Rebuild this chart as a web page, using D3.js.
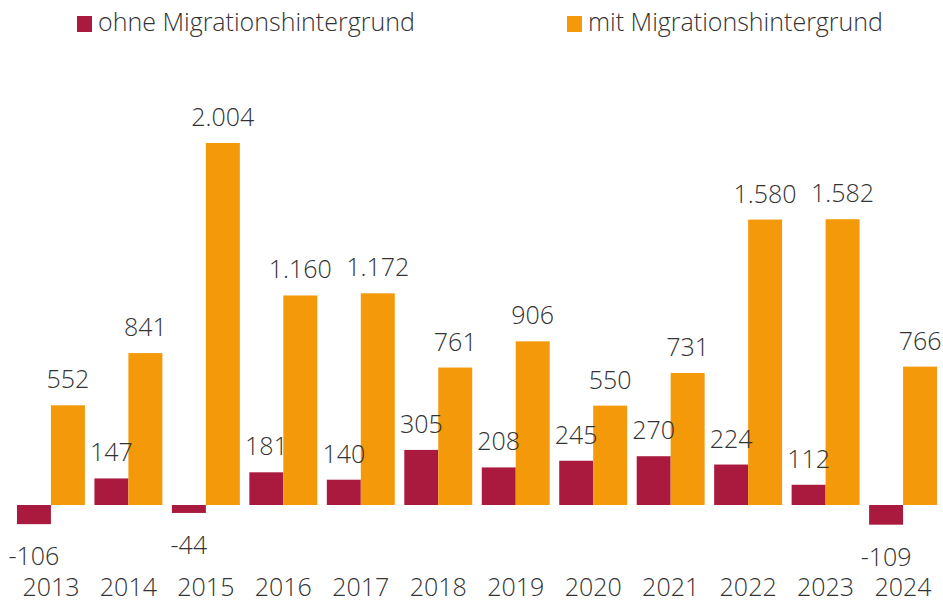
<!DOCTYPE html>
<html><head><meta charset="utf-8">
<script src="https://cdn.jsdelivr.net/npm/d3@7"></script>
<style>
html,body{margin:0;padding:0;background:#fff;}
svg{display:block;}
text{font-family:"Open Sans",sans-serif;font-weight:300;fill:#333;}
</style></head>
<body><svg id="c" width="943" height="603"></svg>
<script>
const years = ["2013","2014","2015","2016","2017","2018","2019","2020","2021","2022","2023","2024"];
const ohne = [-106,147,-44,181,140,305,208,245,270,224,112,-109];
const mit = [552,841,2004,1160,1172,761,906,550,731,1580,1582,766];
const seriesNames = ["ohne Migrationshintergrund","mit Migrationshintergrund"];
const colors = ["#AA1A3F","#F4990A"];

const svg = d3.select("#c");
const x = d3.scaleBand().domain(years).range([12.2, 941.8]).paddingInner(0.123).paddingOuter(0.0615);
const x1 = d3.scaleBand().domain([0,1]).range([0, x.bandwidth()]);
const y = d3.scaleLinear().domain([0, 2004]).range([505, 143]);
const fmt = v => d3.format(",")(v).replace(/,/g, ".").replace("\u2212", "-");

const data = [];
years.forEach((yr,i)=>{ data.push({yr, s:0, v:ohne[i]}); data.push({yr, s:1, v:mit[i]}); });

const g = svg.append("g");
g.selectAll("rect").data(data).join("rect")
  .attr("x", d => x(d.yr) + x1(d.s))
  .attr("width", x1.bandwidth())
  .attr("y", d => Math.min(y(d.v), y(0)))
  .attr("height", d => Math.abs(y(d.v) - y(0)))
  .attr("fill", d => colors[d.s]);

g.selectAll("text.val").data(data).join("text").attr("class","val")
  .attr("x", d => x(d.yr) + x1(d.s) + x1.bandwidth()/2)
  .attr("y", d => d.v >= 0 ? y(d.v) - 17 : y(d.v) + 41)
  .attr("text-anchor","middle")
  .style("font-size","25px")
  .text(d => fmt(d.v));

const xAxis = d3.axisBottom(x).tickSize(0).tickPadding(0);
const ax = svg.append("g").attr("transform","translate(0,580)").call(xAxis);
ax.select(".domain").remove();
ax.selectAll("text").style("font-size","25px").style("font-family","'Open Sans',sans-serif").attr("fill","#333").attr("dy","16");

const legX = [77, 567];
const leg = svg.selectAll("g.leg").data(seriesNames).join("g").attr("class","leg")
  .attr("transform",(d,i)=>`translate(${legX[i]},16)`);
leg.append("rect").attr("width",15).attr("height",16).attr("fill",(d,i)=>colors[i]);
leg.append("text").attr("x",21).attr("y",15).style("font-size","25px").text(d=>d);
</script></body></html>
